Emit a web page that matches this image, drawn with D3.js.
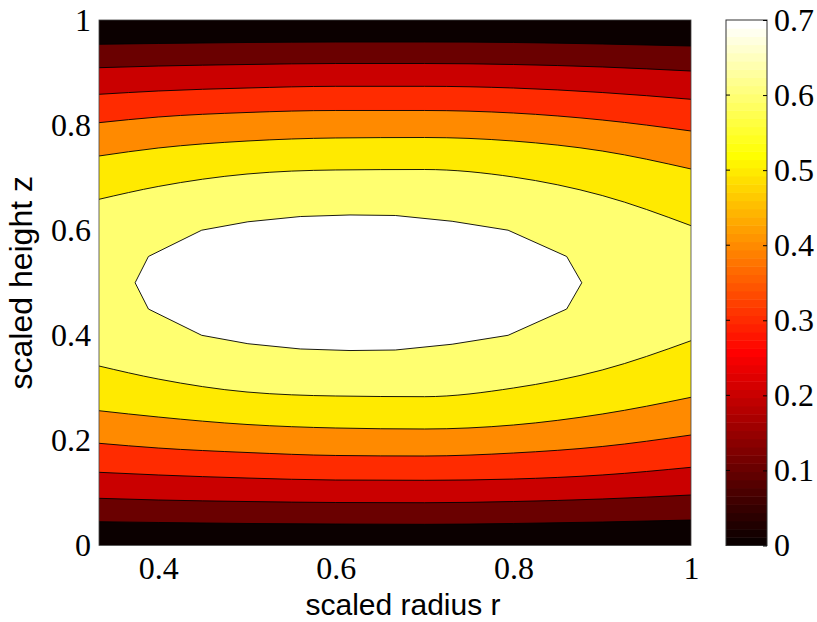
<!DOCTYPE html>
<html>
<head>
<meta charset="utf-8">
<script src="https://cdn.jsdelivr.net/npm/d3@7"></script>
<style>
  html, body { margin: 0; padding: 0; background: #fff; }
  svg { display: block; }
</style>
</head>
<body>
<svg id="chart" width="817" height="622"></svg>
<script>
// ---------------- DATA ----------------
// r positions at which each contour line was read
const rCols = [0.3333, 0.4, 0.5, 0.6, 0.7, 0.8, 0.9, 1.0];
// contour levels (fill of a band uses the lower level's colour)
const levels = [0, 0.1, 0.2, 0.3, 0.4, 0.5, 0.6, 0.7];
// upper (z > 0.5) branch of contour lines, levels 0.1 .. 0.6
const upperZ = [
  [0.9538, 0.9553, 0.9572, 0.9581, 0.9581, 0.9572, 0.9543, 0.9505], // 0.1
  [0.9092, 0.9124, 0.9153, 0.9172, 0.9172, 0.9153, 0.9106, 0.9029], // 0.2
  [0.8586, 0.8649, 0.8706, 0.8738, 0.8738, 0.8706, 0.8620, 0.8491], // 0.3
  [0.8046, 0.8154, 0.8240, 0.8278, 0.8278, 0.8230, 0.8097, 0.7888], // 0.4
  [0.7412, 0.7564, 0.7697, 0.7755, 0.7764, 0.7697, 0.7507, 0.7165], // 0.5
  [0.6588, 0.6832, 0.7069, 0.7146, 0.7155, 0.7012, 0.6660, 0.6086]  // 0.6
];
// lower (z < 0.5) branch of contour lines, levels 0.1 .. 0.6
const lowerZ = [
  [0.0453, 0.0438, 0.0419, 0.0409, 0.0403, 0.0419, 0.0447, 0.0485], // 0.1
  [0.0898, 0.0866, 0.0837, 0.0818, 0.0814, 0.0837, 0.0885, 0.0961], // 0.2
  [0.1393, 0.1342, 0.1284, 0.1246, 0.1241, 0.1265, 0.1342, 0.1488], // 0.3
  [0.1945, 0.1855, 0.1770, 0.1713, 0.1703, 0.1760, 0.1884, 0.2103], // 0.4
  [0.2565, 0.2445, 0.2303, 0.2236, 0.2217, 0.2293, 0.2502, 0.2820], // 0.5
  [0.3416, 0.3168, 0.2921, 0.2845, 0.2832, 0.2997, 0.3340, 0.3897]  // 0.6
];
// closed 0.7 contour (the white region)
const innerR = [0.374, 0.389, 0.449, 0.501, 0.560, 0.616, 0.667, 0.731, 0.794, 0.860, 0.877,
                0.860, 0.794, 0.731, 0.667, 0.616, 0.560, 0.501, 0.449, 0.389];
const innerZ = [0.500, 0.550, 0.600, 0.616, 0.626, 0.629, 0.628, 0.617, 0.600, 0.550, 0.500,
                0.450, 0.400, 0.383, 0.372, 0.371, 0.374, 0.384, 0.400, 0.450];
// tick labels
const xTicks = [0.4, 0.6, 0.8, 1];
const yTicks = [0, 0.2, 0.4, 0.6, 0.8, 1];
const cbTicks = [0, 0.1, 0.2, 0.3, 0.4, 0.5, 0.6, 0.7];
const xTitle = "scaled radius r";
const yTitle = "scaled height z";

// ---------------- LAYOUT ----------------
const svg = d3.select("#chart");
const plot = { left: 99, right: 691, top: 20, bottom: 545.5 };
const cb = { left: 726, right: 767, top: 20, bottom: 545.5 };
const cMin = 0, cMax = 0.7, nMap = 64;

// MATLAB "hot" colormap, 64 entries, index 1..64
function hotIndex(i) {
  const cl = v => Math.max(0, Math.min(1, v));
  const r = cl(i / 24), g = cl((i - 24) / 24), b = cl((i - 48) / 16);
  return d3.rgb(Math.round(r * 255), Math.round(g * 255), Math.round(b * 255)).formatHex();
}
function hotValue(v) {
  let idx = Math.floor((v - cMin) / (cMax - cMin) * nMap + 1e-9) + 1;
  idx = Math.max(1, Math.min(nMap, idx));
  return hotIndex(idx);
}

const x = d3.scaleLinear().domain([1 / 3, 1]).range([plot.left, plot.right]);
const y = d3.scaleLinear().domain([0, 1]).range([plot.bottom, plot.top]);

const g = svg.append("g");
g.append("clipPath").attr("id", "clip")
  .append("rect")
  .attr("x", plot.left).attr("y", plot.top)
  .attr("width", plot.right - plot.left).attr("height", plot.bottom - plot.top);

const body = g.append("g").attr("clip-path", "url(#clip)");

// lowest band
body.append("rect")
  .attr("x", plot.left).attr("y", plot.top)
  .attr("width", plot.right - plot.left).attr("height", plot.bottom - plot.top)
  .attr("fill", hotValue(levels[0]));

const curve = d3.curveMonotoneX;
const area = d3.area()
  .x(d => x(d.r)).y0(d => y(d.lo)).y1(d => y(d.hi)).curve(curve);
const line = d3.line().x(d => x(d.r)).y(d => y(d.z)).curve(curve);

upperZ.forEach((up, k) => {
  const pts = rCols.map((r, i) => ({ r, hi: up[i], lo: lowerZ[k][i] }));
  body.append("path").attr("d", area(pts)).attr("fill", hotValue(levels[k + 1]));
});

// inner closed region (level 0.7)
const innerPts = innerR.map((r, i) => [x(r), y(innerZ[i])]);
body.append("path")
  .attr("d", d3.line().curve(d3.curveLinearClosed)(innerPts))
  .attr("fill", hotValue(levels[7]))
  .attr("stroke", "#000").attr("stroke-width", 0.9);

// contour lines
upperZ.forEach((up, k) => {
  [up, lowerZ[k]].forEach(arr => {
    body.append("path")
      .attr("d", line(rCols.map((r, i) => ({ r, z: arr[i] }))))
      .attr("fill", "none").attr("stroke", "#000").attr("stroke-width", 0.9);
  });
});

// frame
g.append("rect")
  .attr("x", plot.left).attr("y", plot.top)
  .attr("width", plot.right - plot.left).attr("height", plot.bottom - plot.top)
  .attr("fill", "none").attr("stroke", "#444").attr("stroke-width", 0.8);

// axes
const tickFont = "'Liberation Serif', 'Times New Roman', serif";
const fmt = d => (d === 0 || d === 1) ? String(d) : d3.format(".1f")(d);

const yAxis = d3.axisLeft(y).tickValues(yTicks).tickFormat(fmt).tickSize(0).tickPadding(8);
const ya = g.append("g").attr("transform", `translate(${plot.left},0)`).call(yAxis);
ya.select(".domain").remove();
ya.selectAll("text").attr("font-family", tickFont).attr("font-size", 32).attr("fill", "#000");

const xAxis = d3.axisBottom(x).tickValues(xTicks).tickFormat(fmt).tickSize(0).tickPadding(11);
const xa = g.append("g").attr("transform", `translate(0,${plot.bottom})`).call(xAxis);
xa.select(".domain").remove();
xa.selectAll("text").attr("font-family", tickFont).attr("font-size", 32).attr("fill", "#000");

const labelFont = "'Liberation Sans', Arial, Helvetica, sans-serif";
g.append("text")
  .attr("x", (plot.left + plot.right) / 2 + 8).attr("y", 615)
  .attr("text-anchor", "middle")
  .attr("font-family", labelFont).attr("font-size", 30)
  .text(xTitle);
g.append("text")
  .attr("transform", `translate(32,${(plot.top + plot.bottom) / 2}) rotate(-90)`)
  .attr("text-anchor", "middle")
  .attr("font-family", labelFont).attr("font-size", 32)
  .text(yTitle);

// colorbar
const cy = d3.scaleLinear().domain([cMin, cMax]).range([cb.bottom, cb.top]);
const cells = d3.range(nMap);
const cbg = svg.append("g");
cbg.selectAll("rect.cell").data(cells).enter().append("rect")
  .attr("class", "cell")
  .attr("x", cb.left)
  .attr("y", i => cy(cMin + (i + 1) * (cMax - cMin) / nMap))
  .attr("width", cb.right - cb.left)
  .attr("height", i => cy(cMin + i * (cMax - cMin) / nMap) - cy(cMin + (i + 1) * (cMax - cMin) / nMap) + 0.5)
  .attr("fill", i => hotIndex(i + 1));
cbg.append("rect")
  .attr("x", cb.left).attr("y", cb.top)
  .attr("width", cb.right - cb.left).attr("height", cb.bottom - cb.top)
  .attr("fill", "none").attr("stroke", "#333").attr("stroke-width", 1);

const cbAxis = d3.axisRight(cy).tickValues(cbTicks).tickFormat(d => d === 0 ? "0" : d3.format(".1f")(d))
  .tickSize(-4).tickPadding(7);
const ca = cbg.append("g").attr("transform", `translate(${cb.right},0)`).call(cbAxis);
ca.select(".domain").remove();
ca.selectAll("line").attr("stroke", "#000");
ca.selectAll("text").attr("font-family", tickFont).attr("font-size", 32).attr("fill", "#000");
// inner ticks on the left side of the colorbar
cbg.selectAll("line.lt").data(cbTicks.filter(t => t > 0 && t < 0.7)).enter().append("line")
  .attr("class", "lt")
  .attr("x1", cb.left).attr("x2", cb.left + 4)
  .attr("y1", d => cy(d)).attr("y2", d => cy(d))
  .attr("stroke", "#000");
</script>
</body>
</html>
